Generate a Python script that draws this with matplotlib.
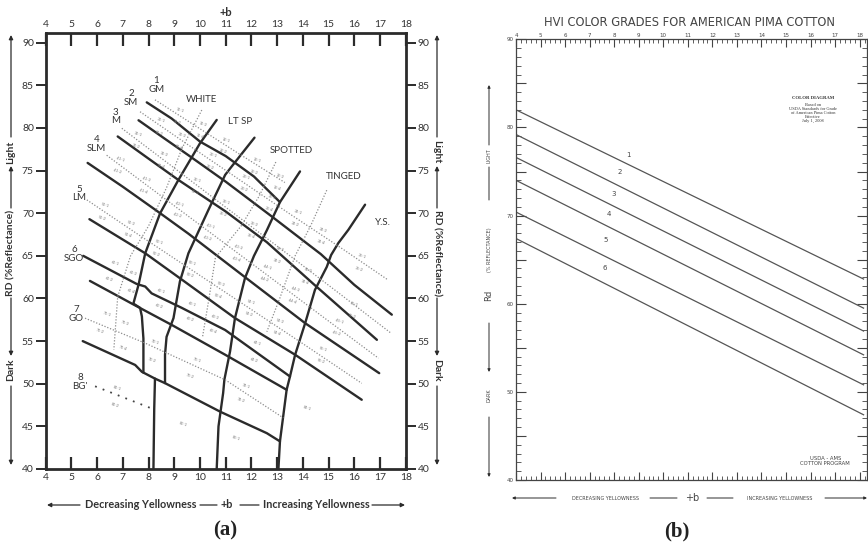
import matplotlib
matplotlib.use("Agg")
import matplotlib.pyplot as plt
from matplotlib.ticker import MultipleLocator, FuncFormatter

# ---------------- panel (a): Upland colour chart, +b vs Rd ----------------
# thick grade boundaries (b, Rd)
grade_b1 = [(7.93, 83.0), (8.9, 81.1), (10.0, 78.4), (11.0, 76.7), (12.1, 74.3), (13.11, 71.3)]
grade_b2 = [(7.61, 80.9), (8.6, 78.8), (9.55, 76.8), (11.0, 73.7), (12.8, 69.6), (14.7, 65.2),
            (16.0, 61.6), (17.46, 58.1)]
grade_b3 = [(6.8, 79.0), (8.0, 76.4), (9.16, 73.9), (11.0, 70.2), (12.6, 66.6), (14.45, 61.6),
            (16.88, 55.15)]
grade_b4 = [(5.63, 75.9), (7.0, 73.1), (8.45, 70.0), (9.55, 67.6), (11.75, 62.5), (14.09, 57.1),
            (16.97, 51.24)]
grade_b5 = [(5.7, 69.3), (7.87, 65.3), (9.3, 62.2), (11.36, 57.7), (13.7, 53.4), (16.29, 48.12)]
grade_b6 = [(5.46, 65.0), (7.54, 61.7), (7.87, 61.4), (8.12, 60.6), (9.29, 58.9), (10.98, 56.3),
            (13.5, 50.85)]
grade_b7 = [(5.72, 62.06), (7.41, 59.3), (8.9, 56.9), (10.98, 53.4), (13.37, 49.29)]
grade_b8 = [(5.44, 55.0), (7.48, 52.2), (7.74, 51.4), (8.25, 50.6), (8.64, 50.07), (10.8, 46.7),
            (12.6, 44.2), (13.11, 43.24)]

# thick colour boundaries
color_v1 = [(10.65, 80.94), (10.0, 78.2), (9.16, 73.9), (8.45, 70.0), (7.87, 65.3), (7.61, 61.6),
            (7.41, 59.4), (7.67, 58.9), (7.74, 57.9), (7.8, 55.3), (7.8, 51.3)]
color_v2 = [(12.12, 78.86), (11.23, 75.47), (10.98, 74.5), (10.33, 70.4), (9.55, 65.3), (9.22, 62.0),
            (8.97, 57.7), (8.7, 55.5), (8.64, 53.4), (8.64, 50.07)]
color_v2_low = [(8.25, 50.6), (8.22, 47.0), (8.19, 40.0)]
color_v3 = [(13.89, 74.9), (13.11, 71.3), (12.6, 68.0), (12.1, 65.0), (11.75, 62.4), (11.36, 57.7),
            (11.17, 53.8), (10.95, 50.5), (10.9, 48.9), (10.72, 45.0), (10.65, 40.0)]
color_v4 = [(16.42, 71.0), (15.77, 68.05), (15.38, 66.5), (15.1, 65.1), (14.93, 63.7), (14.47, 61.0),
            (14.09, 57.1), (13.7, 53.4), (13.5, 50.85), (13.37, 49.3), (13.11, 43.24), (13.05, 40.0)]

# dotted grade centre lines
mid_d1 = [(8.25, 83.3), (10.0, 79.9), (11.5, 77.0), (13.3, 73.6)]
mid_d2 = [(7.67, 81.9), (9.5, 78.1), (11.5, 74.0), (13.5, 69.9), (15.5, 65.9), (17.3, 62.2)]
mid_d3 = [(6.96, 79.96), (9.0, 75.3), (11.0, 70.7), (13.5, 65.0), (15.5, 60.4), (17.4, 56.0)]
mid_d4 = [(6.37, 76.8), (8.5, 72.0), (10.5, 67.5), (12.5, 63.0), (14.8, 57.8), (16.94, 53.0)]
mid_d5 = [(5.6, 71.56), (7.5, 67.7), (9.5, 63.7), (11.5, 59.7), (14.0, 54.7), (16.29, 50.05)]
mid_d7 = [(5.53, 57.69), (7.87, 54.76), (10.98, 50.46), (13.24, 46.0)]
mid_bg = [(5.92, 49.7), (8.12, 47.1)]

# dotted colour centre lines
mid_white = [(10.07, 82.1), (9.3, 77.6), (8.7, 73.0), (8.0, 68.5), (7.3, 65.0), (6.8, 60.2), (6.65, 54.0)]
mid_spotted = [(12.95, 76.0), (12.3, 72.0), (11.6, 68.5), (10.6, 64.8), (10.35, 60.0), (10.1, 55.5)]
mid_tinged = [(14.93, 72.7), (14.3, 68.5), (13.7, 65.0), (13.1, 60.0), (12.6, 56.1)]

grade_names = ["1\nGM", "2\nSM", "3\nM", "4\nSLM", "5\nLM", "6\nSGO", "7\nGO", "8\nBG'"]
grade_label_x = [8.31, 7.32, 6.70, 5.98, 5.30, 5.10, 5.18, 5.33]
grade_label_y = [85.0, 83.5, 81.35, 78.1, 72.3, 65.2, 58.2, 50.2]

column_names = ["WHITE", "LT SP", "SPOTTED", "TINGED", "Y.S."]
column_x = [10.07, 11.56, 13.57, 15.58, 17.13]
column_y = [83.3, 80.74, 77.4, 74.3, 68.9]

sub_codes = ["11-1", "11-2", "11-3", "11-4", "12-1", "12-2", "13-1", "13-2", "13-3", "13-4",
             "21-1", "21-2", "21-3", "21-4", "22-1", "22-2", "23-1", "23-2", "23-3", "23-4",
             "24-1", "24-2", "24-3", "24-4", "25-1", "25-2",
             "31-1", "31-2", "31-3", "31-4", "32-1", "32-2", "33-1", "33-2", "33-3", "33-4",
             "34-1", "34-2", "34-3", "34-4", "35-1", "35-2",
             "41-1", "41-2", "41-3", "41-4", "42-1", "42-2", "43-1", "43-2", "43-3", "43-4",
             "44-1", "44-2", "44-3", "44-4", "45-1", "45-2",
             "51-1", "51-2", "51-3", "51-4", "52-1", "52-2", "53-1", "53-2", "53-3", "53-4",
             "54-1", "54-2", "54-3", "54-4", "55-1", "55-2",
             "61-1", "61-2", "61-3", "61-4", "62-1", "62-2", "63-1", "63-2", "63-3", "63-4",
             "64-1", "64-2",
             "71-1", "71-2", "71-3", "71-4", "72-1", "72-2", "73-1", "73-2", "74-1", "74-2",
             "81-1", "81-2", "82-1", "83-1", "84-1"]
sub_x = [9.2, 9.1, 10.1, 10.0, 11.0, 10.9, 12.2, 12.1, 13.1, 13.0,
         8.5, 8.4, 9.3, 9.2, 10.5, 10.4, 11.8, 11.7, 12.8, 12.7,
         13.8, 13.7, 14.8, 14.7, 16.3, 16.2,
         7.6, 7.5, 8.6, 8.5, 9.9, 9.8, 11.0, 10.9, 12.1, 12.0,
         13.1, 13.0, 14.2, 14.1, 16.0, 15.9,
         6.9, 6.8, 7.9, 7.8, 9.2, 9.1, 10.4, 10.3, 11.5, 11.4,
         12.6, 12.5, 13.7, 13.6, 15.4, 15.3,
         6.3, 6.2, 7.3, 7.2, 8.4, 8.3, 9.7, 9.6, 10.8, 10.7,
         12.0, 11.9, 13.1, 13.0, 14.8, 14.7,
         6.7, 6.45, 7.4, 7.3, 8.5, 8.4, 9.7, 9.6, 10.6, 10.5,
         12.2, 12.1,
         6.37, 6.11, 7.09, 7.02, 8.25, 8.12, 9.9, 9.6, 11.8, 11.6,
         6.76, 6.7, 9.35, 11.4, 14.15]
sub_y = [82.1, 80.7, 80.4, 79.0, 78.6, 77.2, 76.2, 74.8, 74.3, 72.9,
         80.9, 79.4, 79.1, 77.7, 76.8, 75.4, 74.2, 72.8, 71.9, 70.5,
         70.1, 68.7, 68.0, 66.6, 64.9, 63.4,
         79.2, 77.8, 76.9, 75.5, 73.9, 72.5, 71.3, 69.9, 68.7, 67.3,
         65.8, 64.4, 63.3, 61.9, 59.3, 57.9,
         76.3, 74.9, 74.0, 72.6, 71.1, 69.7, 68.5, 67.1, 66.0, 64.6,
         63.6, 62.2, 61.1, 59.7, 57.3, 55.9,
         70.9, 69.4, 68.8, 67.4, 66.6, 65.2, 64.1, 62.7, 61.7, 60.3,
         59.5, 58.1, 57.3, 55.9, 54.0, 52.6,
         64.1, 62.3, 63.0, 60.8, 60.8, 59.1, 59.3, 57.6, 57.8, 56.1,
         54.7, 52.8,
         58.1, 56.1, 57.1, 54.2, 54.8, 52.8, 52.7, 50.9, 49.7, 48.0,
         49.5, 47.5, 45.2, 43.6, 47.1]

# ---------------- panel (b): American Pima, six grade lines ----------------
pima_grades = ["1", "2", "3", "4", "5", "6"]
pima_x = [4.0, 18.16]
pima_rd_left = [82.0, 79.2, 76.6, 74.0, 70.4, 67.4]
pima_rd_right = [62.8, 59.5, 56.9, 54.2, 50.8, 47.4]
pima_label_x = [8.58, 8.24, 7.97, 7.80, 7.64, 7.63]
pima_label_y = [76.9, 75.0, 72.5, 70.2, 67.2, 64.0]

W, H = 868, 548
INK = "#2b2b2b"
SANS = ["Lato", "DejaVu Sans"]


def rect(left, top, right, bottom):
    return [left / W, 1 - bottom / H, (right - left) / W, (bottom - top) / H]


def draw(ax, pts, **kw):
    xs, ys = zip(*pts)
    ax.plot(xs, ys, **kw)


fig = plt.figure(figsize=(W / 100, H / 100), dpi=100)
fig.patch.set_facecolor("white")

# ---------- (a) ----------
ax = fig.add_axes(rect(45.7, 33.3, 405.7, 469))
ax.set_xlim(4, 18)
ax.set_ylim(40, 91.1)
ax.set_xticks(range(4, 19))
ax.set_yticks(range(40, 91, 5))
ax.tick_params(axis="x", top=True, bottom=True, labeltop=True, labelbottom=True,
               direction="in", length=9, width=1.6, color=INK, labelsize=7.5, pad=3)
ax.tick_params(axis="y", left=True, right=True, labelleft=True, labelright=True,
               direction="out", length=7, width=1.4, color=INK, labelsize=7.5, pad=1.5)
for lab in ax.get_xticklabels() + ax.get_yticklabels():
    lab.set_family(SANS)
    lab.set_color("#333333")
for sp in ax.spines.values():
    sp.set_linewidth(2.0)
    sp.set_color(INK)

thick = dict(color=INK, lw=1.7, solid_joinstyle="round", solid_capstyle="round")
dots = dict(color="#8c8c8c", lw=0.9, ls=(0, (1, 1.4)))
for line in [grade_b1, grade_b2, grade_b3, grade_b4, grade_b5, grade_b6, grade_b7, grade_b8,
             color_v1, color_v2, color_v2_low, color_v3, color_v4]:
    draw(ax, line, **thick)
for line in [mid_d1, mid_d2, mid_d3, mid_d4, mid_d5, mid_d7,
             mid_white, mid_spotted, mid_tinged]:
    draw(ax, line, **dots)
draw(ax, mid_bg, color="#444444", lw=1.3, ls=(0, (1, 3.5)))

for name, x, y in zip(grade_names, grade_label_x, grade_label_y):
    ax.text(x, y, name, ha="center", va="center", fontsize=7, color="#333333",
            family=SANS, linespacing=0.95)
for name, x, y in zip(column_names, column_x, column_y):
    ax.text(x, y, name, ha="center", va="center", fontsize=7, color="#333333", family=SANS)
for code, x, y in zip(sub_codes, sub_x, sub_y):
    ax.text(x, y, code, ha="center", va="center", fontsize=2.8, color="#7a7a7a",
            rotation=-18, family=SANS)

# ---------- (b) ----------
bx = fig.add_axes(rect(516, 39.3, 867, 480))
bx.set_xlim(4, 18.3)
bx.set_ylim(40, 90)
bx.xaxis.set_major_locator(MultipleLocator(1))
bx.xaxis.set_minor_locator(MultipleLocator(0.2))
bx.yaxis.set_major_locator(MultipleLocator(5))
bx.yaxis.set_minor_locator(MultipleLocator(1))
bx.yaxis.set_major_formatter(FuncFormatter(lambda v, p: f"{v:.0f}" if v % 10 == 0 else ""))
bx.tick_params(axis="x", which="both", top=True, bottom=True, labeltop=True, labelbottom=False,
               direction="in", color="#444444")
bx.tick_params(axis="x", which="major", length=6, width=0.8, labelsize=4, pad=1)
bx.tick_params(axis="x", which="minor", length=3, width=0.6)
bx.tick_params(axis="y", which="both", left=True, right=True, direction="in", color="#444444")
bx.tick_params(axis="y", which="major", length=7, width=0.8, labelsize=4, pad=2)
bx.tick_params(axis="y", which="minor", length=3.5, width=0.6)
for lab in bx.get_xticklabels() + bx.get_yticklabels():
    lab.set_color("#444444")
for sp in bx.spines.values():
    sp.set_linewidth(0.9)
    sp.set_color("#444444")

for y0, y1 in zip(pima_rd_left, pima_rd_right):
    bx.plot(pima_x, [y0, y1], color="#555555", lw=0.9)
for g, x, y in zip(pima_grades, pima_label_x, pima_label_y):
    bx.text(x, y, g, ha="center", va="center", fontsize=5, color="#444444")

bx.text(16.1, 83.3, "COLOR DIAGRAM", ha="center", va="center", fontsize=3.4,
        family="Liberation Serif", weight="bold", color="#333333")
bx.text(16.1, 82.8, "Based on\nUSDA Standards for Grade\nof American Pima Cotton\nEffective\nJuly 1, 2008",
        ha="center", va="top", fontsize=3.2, family="Liberation Serif", color="#333333",
        linespacing=1.0)
bx.text(16.6, 42.1, "USDA - AMS\nCOTTON PROGRAM", ha="center", va="center", fontsize=3.8,
        color="#444444", linespacing=1.0)

# ---------- surrounding labels, arrows, captions (figure pixels) ----------
ov = fig.add_axes([0, 0, 1, 1])
ov.set_xlim(0, W)
ov.set_ylim(H, 0)
ov.axis("off")


def arrow(x0, y0, x1, y1, head=True, lw=0.9, ms=6):
    ov.annotate("", xy=(x1, y1), xytext=(x0, y0),
                arrowprops=dict(arrowstyle="-|>" if head else "-", color=INK, lw=lw,
                                mutation_scale=ms, shrinkA=0, shrinkB=0))


bold = dict(family=SANS, weight="bold", color="#333333", ha="center", va="center")

# (a) left and right side
for x, rot in [(11, 90), (437, 270)]:
    arrow(x, 137, x, 35)
    ov.text(x, 152, "Light", rotation=rot, fontsize=7.5, **bold)
    arrow(x, 208, x, 166)
    ov.text(x, 253, "RD (%Reflectance)", rotation=rot, fontsize=7.5, **bold)
    arrow(x, 298, x, 356)
    ov.text(x, 370, "Dark", rotation=rot, fontsize=7.5, **bold)
    arrow(x, 386, x, 465)

ov.text(226, 12, "+b", fontsize=8, **bold)
arrow(80, 505, 47, 505)
ov.text(141, 505, "Decreasing Yellowness", fontsize=7.8, **bold)
arrow(200, 505, 217, 505, head=False)
ov.text(227, 505, "+b", fontsize=7.8, **bold)
arrow(240, 505, 259, 505, head=False)
ov.text(316, 505, "Increasing Yellowness", fontsize=7.8, **bold)
arrow(372, 505, 405, 505)
ov.text(225, 530, "(a)", fontsize=15, family="Liberation Serif", weight="bold",
        ha="center", va="center", color="#222222")

# (b) side and bottom
small = dict(family="DejaVu Sans", color="#444444", ha="center", va="center")
arrow(489, 145, 489, 85, lw=0.7, ms=4)
ov.text(489, 156, "LIGHT", rotation=90, fontsize=3.5, **small)
arrow(489, 167, 489, 200, head=False, lw=0.7)
ov.text(489, 250, "(% REFLECTANCE)", rotation=90, fontsize=3.5, **small)
ov.text(489, 295, "Rd", rotation=90, fontsize=6, **small)
arrow(489, 323, 489, 372, lw=0.7, ms=4)
ov.text(489, 395, "DARK", rotation=90, fontsize=3.5, **small)
arrow(489, 417, 489, 477, lw=0.7, ms=4)

arrow(556, 498, 512, 498, lw=0.7, ms=4)
ov.text(605, 498, "DECREASING YELLOWNESS", fontsize=3.5, **small)
arrow(650, 498, 677, 498, head=False, lw=0.7)
ov.text(692, 498, "+b", fontsize=7, **small)
arrow(707, 498, 733, 498, head=False, lw=0.7)
ov.text(780, 498, "INCREASING YELLOWNESS", fontsize=3.5, **small)
arrow(825, 498, 867, 498, lw=0.7, ms=4)

ov.text(690, 22, "HVI COLOR GRADES FOR AMERICAN PIMA COTTON", fontsize=8.3, **small)
ov.text(677, 531, "(b)", fontsize=15, family="Liberation Serif", weight="bold",
        ha="center", va="center", color="#222222")

fig.savefig("out.png", dpi=100, facecolor="white")
